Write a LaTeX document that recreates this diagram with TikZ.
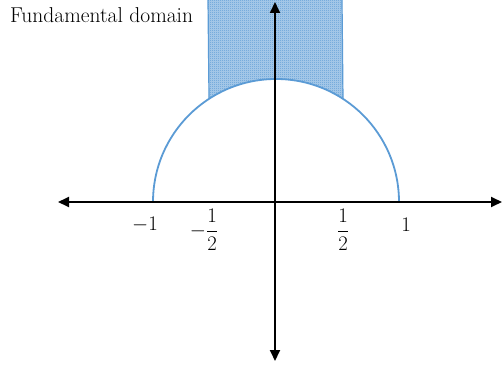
\documentclass[tikz,border=0pt]{standalone}
\usepackage{amsmath}
\usetikzlibrary{arrows.meta,patterns,calc}
\definecolor{arcblue}{RGB}{91,155,213}
\pgfdeclarepatternformonly{checker}{\pgfqpoint{0pt}{0pt}}{\pgfqpoint{2pt}{2pt}}{\pgfqpoint{2pt}{2pt}}{%
  \pgfpathrectangle{\pgfqpoint{0pt}{0pt}}{\pgfqpoint{1pt}{1pt}}%
  \pgfpathrectangle{\pgfqpoint{1pt}{1pt}}{\pgfqpoint{1pt}{1pt}}%
  \pgfusepath{fill}}
\tikzset{
  axis/.style={line width=1.8pt,-{Triangle[length=11pt,width=10pt]}},
  blueline/.style={draw=arcblue,line width=1.8pt},
  edge/.style={draw=arcblue,line width=1.2pt},
  lab/.style={font=\fontsize{20}{24}\selectfont,inner sep=0pt},
}
\begin{document}
\begin{tikzpicture}[x=1pt,y=1pt]
\useasboundingbox (0,0) rectangle (502,367);
% coordinates
\coordinate (O) at (276,165);
\coordinate (Ov) at (275,165);
\coordinate (xl) at (58,165);
\coordinate (xr) at (502,165);
\coordinate (yt) at (275,365);
\coordinate (yb) at (275,6);
\coordinate (sl) at (208,367);
\coordinate (sr) at (342,367);
% shaded region
\fill[arcblue!50] (sl) -- ($(O)+(123:123)$) arc (123:57:123) -- (sr) -- cycle;
\fill[pattern=checker,pattern color=arcblue] (sl) -- ($(O)+(123:123)$) arc (123:57:123) -- (sr) -- cycle;
\draw[edge] (sl) -- ($(O)+(123:123)$);
\draw[edge] (sr) -- ($(O)+(57:123)$);
% semicircle
\draw[blueline] ($(O)+(180:123)$) arc (180:0:123);
% axes
\draw[axis] (Ov) -- (xl);
\draw[axis] (Ov) -- (xr);
\draw[axis] (Ov) -- (yt);
\draw[axis] (Ov) -- (yb);
% labels
\node[lab] (m1) at (145,142) {$-1$};
\node[lab] (mh) at (204,137) {$-\dfrac{1}{2}$};
\node[lab] (ph) at (343,137) {$\dfrac{1}{2}$};
\node[lab] (p1) at (406,142) {$1$};
\node[anchor=base west,inner sep=0pt,font=\fontsize{21.5}{26}\selectfont] (title) at (10,344) {Fundamental domain};
\end{tikzpicture}
\end{document}
